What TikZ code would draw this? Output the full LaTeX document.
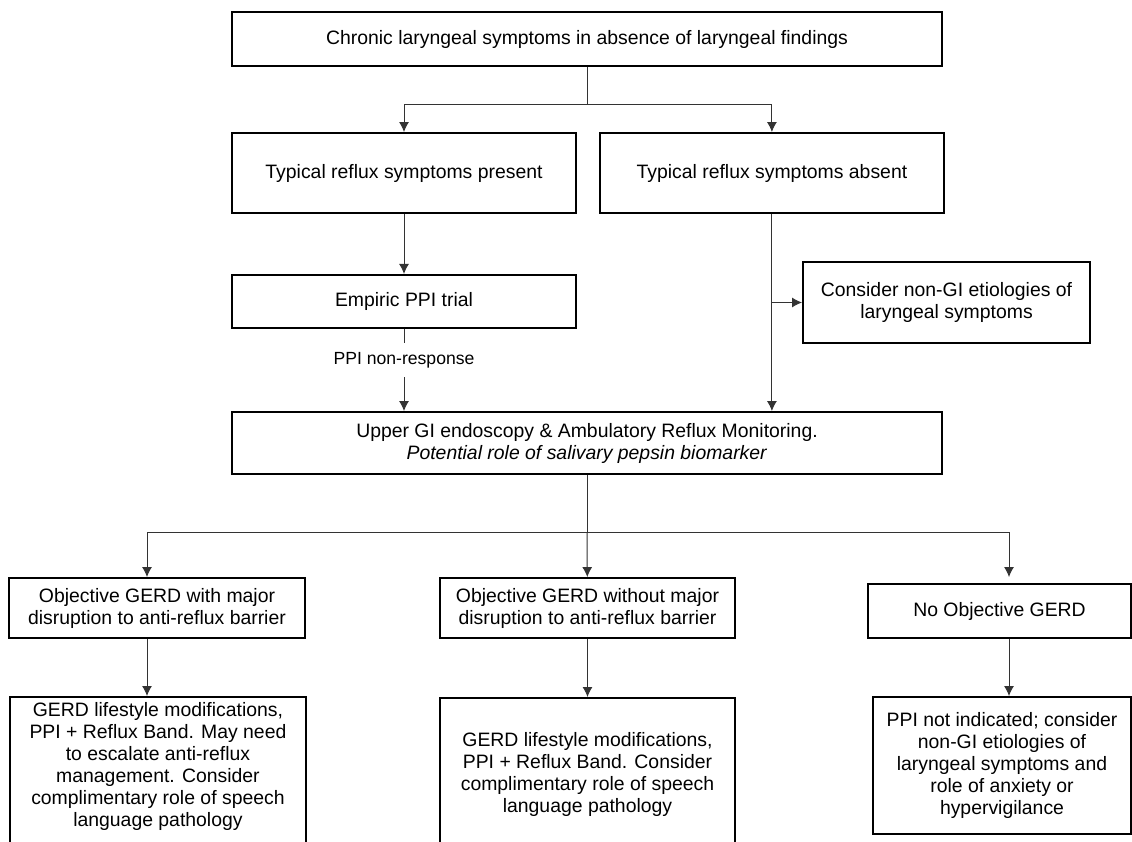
\documentclass[tikz,border=0pt]{standalone}
\usepackage{fontspec}
\setmainfont{Liberation Sans}
\usetikzlibrary{positioning}
\usetikzlibrary{arrows.meta, calc}

\begin{document}
\begin{tikzpicture}
  [
    x=1pt, y=-1pt,
    node distance=22pt,
    every node/.style={font=\fontsize{19.4}{22}\selectfont},
    align=center
  ]
      \tikzset{
        >={Latex[width=10pt,length=10pt]},
        base/.style = {rectangle, draw=black, line width=1.9pt, inner sep=4pt,
                       text centered},
        topstyle/.style = {base, minimum width=710pt, minimum height=54pt},
        choicestyle/.style = {base, minimum width=344pt, minimum height=80pt},
        trialstyle/.style = {base, minimum width=344pt, minimum height=53pt},
        sidestyle/.style = {base, minimum width=287pt, minimum height=81pt},
        teststyle/.style = {base, minimum width=710pt, minimum height=62pt},
        outcomestyle/.style = {base, minimum width=296pt, minimum height=60pt},
        advicestyle/.style = {base, minimum width=296pt},
        link/.style = {line width=1pt, draw=black!80},
        notestyle/.style = {font=\fontsize{17.6}{20}\selectfont, fill=white, inner ysep=9pt},
    }
    \useasboundingbox (0,0) rectangle (1132,841);
    \clip (0,0) rectangle (1132,841);

    \node (chronic) [topstyle] at (587,39) {Chronic laryngeal symptoms in absence of laryngeal findings};
    \node (present) [choicestyle] at (404,173) {Typical reflux symptoms present};
    \node (absent) [choicestyle, right=22pt of present] {Typical reflux symptoms absent};
    \node (empiric) [trialstyle, below=60pt of present] {Empiric PPI trial};
    \node (nongi) [sidestyle] at (946.5,302.5) {Consider non-GI etiologies of\\laryngeal symptoms};
    \node (upper) [teststyle] at (587,443) {Upper GI endoscopy \& Ambulatory Reflux Monitoring.\\\textit{Potential role of salivary pepsin biomarker}};

    % objective testing outcomes
    \node (gerdmajor) [outcomestyle] at (157,608) {Objective GERD with major\\disruption to anti-reflux barrier};
    \node (gerdminor) [outcomestyle, minimum width=295pt] at (587.5,608) {Objective GERD without major\\disruption to anti-reflux barrier};
    \node (nogerd) [outcomestyle, minimum width=263pt, minimum height=54pt] at (999.5,611) {No Objective GERD};

    \node (careA) [advicestyle, anchor=north west, inner xsep=0pt, inner ysep=5pt] at (9,696)
      {\parbox[t][170pt][t]{296pt}{\centering GERD lifestyle modifications,\\PPI + Reflux Band. May need\\to escalate anti-reflux\\management. Consider\\complimentary role of speech\\language pathology}};
    \node (careB) [advicestyle, minimum width=295pt, minimum height=154pt, anchor=north] at (587.5,697) {GERD lifestyle modifications,\\PPI + Reflux Band. Consider\\complimentary role of speech\\language pathology};
    \node (careC) [advicestyle, minimum width=258pt, minimum height=137pt] at (1002,765.5) {PPI not indicated; consider\\non-GI etiologies of\\laryngeal symptoms and\\role of anxiety or\\hypervigilance};

    \coordinate (split) at ($(chronic.south)+(0,38)$);
    \draw[link] (chronic) -- (split);
    \draw[link,->] (split) -| (present.north);
    \draw[link,->] (split) -| (absent.north);

    \draw[link,->] (present) -- (empiric);
    \draw[link,->] (empiric.south) -- (empiric.south |- upper.north) node[notestyle, text=black, pos=0.38] {PPI non-response};
    \draw[link,->] (absent.south) -- (absent.south |- upper.north);
    \coordinate (tap) at (absent.south |- nongi.west);
    \draw[link,->] (tap) -- (nongi);

    \coordinate (fork) at ($(upper.south)+(0,58)$);
    \draw[link] (upper) -- (fork);
    \draw[link,->] (fork) -| ([xshift=-10pt]gerdmajor.north);
    \draw[link,->] (fork) -- (gerdminor);
    \draw[link,->,shorten >=6pt] (fork) -| ([xshift=9.5pt]nogerd.north);

    \draw[link,->] ([xshift=-10pt]gerdmajor.south) -- ([xshift=-10pt]gerdmajor.south |- careA.north);
    \draw[link,->] (gerdminor) -- (careB);
    \draw[link,->] ([xshift=9.5pt]nogerd.south) -- ([xshift=9.5pt]nogerd.south |- careC.north);
\end{tikzpicture}
\end{document}
